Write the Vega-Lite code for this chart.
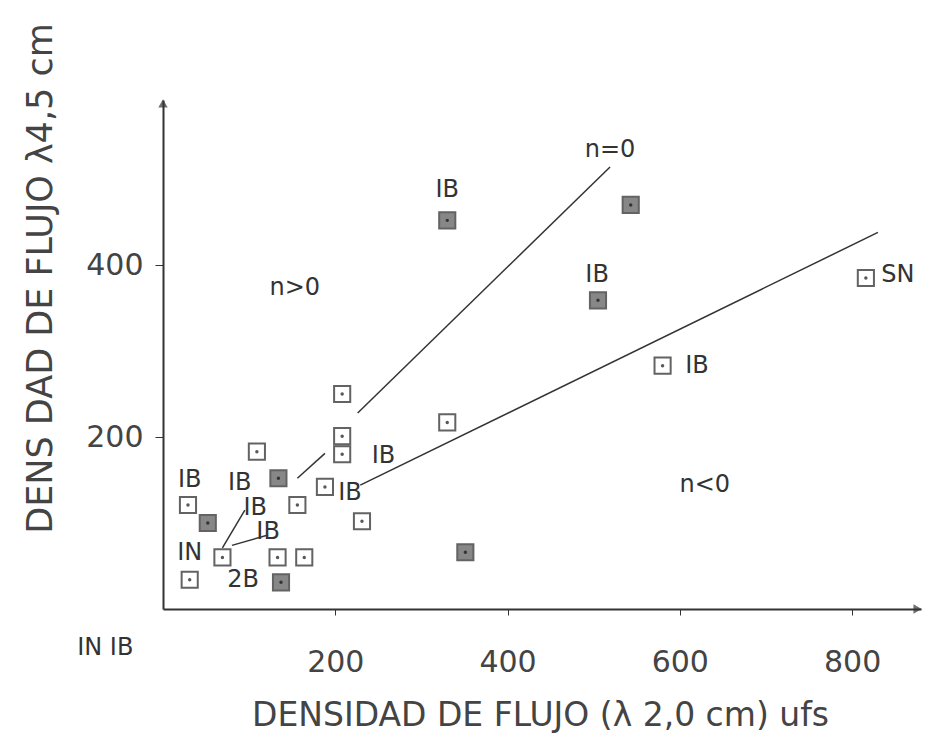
{
  "$schema": "https://vega.github.io/schema/vega-lite/v6.json",
  "width": 758,
  "height": 509,
  "autosize": {"type": "none"},
  "padding": {"left": 163, "top": 100, "right": 4, "bottom": 126},
  "background": "white",
  "config": {"view": {"stroke": null}, "font": "DejaVu Sans"},
  "datasets": {
    "points": [
      {"x": 330, "y": 452, "kind": "filled"},
      {"x": 543, "y": 470, "kind": "filled"},
      {"x": 505, "y": 359, "kind": "filled"},
      {"x": 816, "y": 385, "kind": "open"},
      {"x": 580, "y": 283, "kind": "open"},
      {"x": 208, "y": 250, "kind": "open"},
      {"x": 330, "y": 217, "kind": "open"},
      {"x": 208, "y": 201, "kind": "open"},
      {"x": 208, "y": 180, "kind": "open"},
      {"x": 188, "y": 142, "kind": "open"},
      {"x": 231, "y": 102, "kind": "open"},
      {"x": 351, "y": 66, "kind": "filled"},
      {"x": 109, "y": 183, "kind": "open"},
      {"x": 134, "y": 152, "kind": "filled"},
      {"x": 29, "y": 121, "kind": "open"},
      {"x": 52, "y": 100, "kind": "filled"},
      {"x": 156, "y": 121, "kind": "open"},
      {"x": 69, "y": 60, "kind": "open"},
      {"x": 133, "y": 60, "kind": "open"},
      {"x": 164, "y": 60, "kind": "open"},
      {"x": 31, "y": 34, "kind": "open"},
      {"x": 137, "y": 31, "kind": "filled"}
    ],
    "lines": [
      {"seg": "n0a", "x": 156, "y": 152},
      {"seg": "n0a", "x": 188, "y": 181},
      {"seg": "n0b", "x": 226, "y": 228},
      {"seg": "n0b", "x": 519, "y": 514},
      {"seg": "nneg", "x": 229, "y": 144},
      {"seg": "nneg", "x": 830, "y": 438},
      {"seg": "lead1", "x": 95, "y": 115},
      {"seg": "lead1", "x": 69, "y": 71},
      {"seg": "lead2", "x": 122, "y": 86},
      {"seg": "lead2", "x": 80, "y": 74}
    ],
    "labels": [
      {"x": 330, "y": 487, "text": "IB"},
      {"x": 504, "y": 388, "text": "IB"},
      {"x": 853, "y": 388, "text": "SN"},
      {"x": 620, "y": 283, "text": "IB"},
      {"x": 256, "y": 178, "text": "IB"},
      {"x": 217, "y": 135, "text": "IB"},
      {"x": 31, "y": 150, "text": "IB"},
      {"x": 89, "y": 147, "text": "IB"},
      {"x": 107, "y": 117, "text": "IB"},
      {"x": 122, "y": 90, "text": "IB"},
      {"x": 31, "y": 65, "text": "IN"},
      {"x": 93, "y": 34, "text": "2B"},
      {"x": 519, "y": 534, "text": "n=0"},
      {"x": 153, "y": 373, "text": "n>0"},
      {"x": 629, "y": 144, "text": "n<0"},
      {"x": -67, "y": -45, "text": "IN IB"}
    ],
    "arrows": [
      {"x": 0, "y": 588, "shape": "triangle-up"},
      {"x": 876, "y": 0, "shape": "triangle-right"}
    ]
  },
  "layer": [
    {
      "data": {"name": "lines"},
      "mark": {"type": "line", "color": "#333", "strokeWidth": 1.5, "clip": false},
      "encoding": {
        "x": {"field": "x", "type": "quantitative", "scale": {"domain": [0, 880], "nice": false},
          "axis": {"values": [200, 400, 600, 800], "grid": false, "domainColor": "#333", "domainWidth": 2, "tickColor": "#333", "tickSize": 6, "labelFontSize": 30, "labelColor": "#444", "labelPadding": 32, "labelFont": "DejaVu Sans",
            "title": "DENSIDAD DE FLUJO (λ 2,0 cm) ufs", "titleFontSize": 33, "titleFontWeight": "normal", "titleColor": "#444", "titleX": 377, "titleY": 106, "titleAnchor": null, "titleAlign": "center", "titleBaseline": "middle"}},
        "y": {"field": "y", "type": "quantitative", "scale": {"domain": [0, 592], "nice": false},
          "axis": {"values": [200, 400], "grid": false, "domainColor": "#333", "domainWidth": 2, "tickColor": "#333", "tickSize": 8, "labelFontSize": 30, "labelColor": "#444", "labelPadding": 12, "labelFont": "DejaVu Sans",
            "title": "DENS DAD DE FLUJO   λ4,5 cm", "titleFontSize": 35, "titleFontWeight": "normal", "titleColor": "#444", "titleX": -123, "titleY": 178, "titleAngle": -90, "titleAlign": "center", "titleBaseline": "middle"}},
        "detail": {"field": "seg"}
      }
    },
    {
      "data": {"name": "arrows"},
      "mark": {"type": "point", "filled": true, "color": "#333", "size": 90, "clip": false},
      "encoding": {
        "x": {"field": "x", "type": "quantitative"},
        "y": {"field": "y", "type": "quantitative"},
        "shape": {"field": "shape", "type": "nominal", "scale": null}
      }
    },
    {
      "data": {"name": "points"},
      "mark": {"type": "point", "shape": "square", "size": 260, "strokeWidth": 2, "clip": false},
      "encoding": {
        "x": {"field": "x", "type": "quantitative"},
        "y": {"field": "y", "type": "quantitative"},
        "stroke": {"value": "#222"},
        "fill": {"field": "kind", "type": "nominal", "scale": {"domain": ["open", "filled"], "range": ["white", "#555"]}, "legend": null},
        "fillOpacity": {"value": 1}
      }
    },
    {
      "data": {"name": "points"},
      "mark": {"type": "point", "shape": "circle", "size": 12, "filled": true, "color": "#111", "clip": false},
      "encoding": {
        "x": {"field": "x", "type": "quantitative"},
        "y": {"field": "y", "type": "quantitative"}
      }
    },
    {
      "data": {"name": "labels"},
      "mark": {"type": "text", "fontSize": 24, "color": "#333", "align": "center", "baseline": "middle", "font": "DejaVu Sans", "clip": false},
      "encoding": {
        "x": {"field": "x", "type": "quantitative"},
        "y": {"field": "y", "type": "quantitative"},
        "text": {"field": "text"}
      }
    }
  ]
}
